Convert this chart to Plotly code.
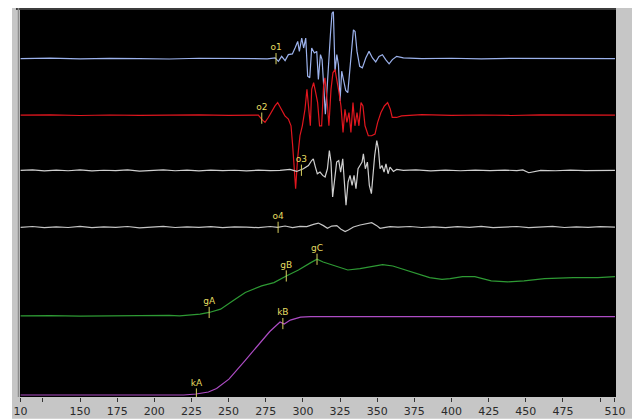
import plotly.graph_objects as go

# ---------------- data ----------------
tick_vals = [110, 125, 150, 175, 200, 225, 250, 275, 300, 325, 350, 375, 400, 425, 450, 475, 500, 510]
tick_text = ["10", "", "150", "175", "200", "225", "250", "275", "300", "325", "350", "375", "400", "425", "450", "475", "", "510"]

blue_x = [110, 130, 150, 170, 190, 210, 230, 250, 268, 276,
          281.3, 283.5, 285.7, 288, 290.2, 292.9, 294.7, 296.5, 297.6, 299.2,
          300.5, 301.9, 303.2, 304.6, 305.9, 307.7, 309.3, 310.4, 311.8, 312.9,
          314, 315.1, 316.3, 317.4, 318.5, 319.6, 320.5, 321.6, 322.8, 323.9,
          325, 326.1, 327.5, 328.8, 330.2, 331.5, 332.9, 334, 335.1, 336.4,
          338.2, 340, 342.3, 344.5, 346.8, 349, 351.2, 353.5, 355.7, 358,
          360.2, 363.1, 367.6, 380, 400, 420, 440, 460, 480, 500, 510]
blue_y = [341, 341.5, 340.8, 341.3, 341, 340.6, 341.4, 341, 341.2, 340.8,
          341.7, 338.3, 343.3, 339, 345, 345.7, 351.7, 358.3, 348.3, 361.7,
          351.7, 361.7, 323.3, 321.7, 351.7, 346.7, 348.3, 320, 345, 340,
          313.3, 285, 311.7, 341.7, 365, 386.7, 388.3, 328.3, 345, 335,
          298.3, 328.3, 318.3, 309, 306.7, 328.3, 351.7, 370, 368.3, 348.3,
          333.3, 331.7, 341.7, 348.3, 341.7, 337.7, 343.3, 345, 340, 335.7,
          340, 343.3, 341.7, 341, 341.4, 340.7, 341.2, 341, 341.5, 340.8, 341]

red_x = [110, 130, 150, 170, 190, 210, 230, 250, 261, 270,
         272.2, 274.5, 276.7, 279, 281.2, 283, 285.2, 287.9, 290.2, 292,
         293.1, 294.2, 295.1, 296.4, 298, 299.6, 301.4, 302.7, 303.6, 305,
         305.9, 307.2, 308.6, 309.9, 311.2, 312.6, 313.9, 314.8, 316.2, 317.5,
         318.9, 320.2, 321.6, 322.9, 324.3, 325.6, 327, 328.3, 329.6, 331,
         332.3, 333.7, 335, 336.4, 337.7, 339.1, 340.4, 341.8, 344, 346.2,
         348.5, 350.3, 352.5, 354.8, 357, 358.8, 360.1, 363, 366.4, 380,
         400, 420, 440, 460, 480, 500, 510]
red_y = [284, 284.3, 283.7, 284.2, 283.8, 284.1, 284.4, 283.8, 284, 284,
         280, 276.7, 281.7, 288.3, 293.3, 296.7, 290, 283.3, 280, 273.3,
         253.3, 230, 210, 240, 263.3, 273.3, 290, 310, 296.7, 273.3,
         310, 316.7, 306.7, 296.7, 273.3, 273.3, 313.3, 321.7, 300, 273.3,
         310, 326.7, 330, 320, 306.7, 293.3, 266.7, 290, 276.7, 286.7,
         266.7, 296.7, 273.3, 286.7, 273.3, 296.7, 293.3, 273.3, 263.3, 263.3,
         265, 276.7, 286.7, 293.3, 296.7, 290, 281.7, 281.7, 283.3, 284.5,
         283.8, 284.2, 283.7, 284.3, 283.9, 284.1, 284]

gray3_x = [110, 118, 126, 134, 142, 150, 158, 166, 174, 182,
           190, 198, 206, 214, 222, 230, 238, 246, 254, 262,
           270, 278, 284.6, 291.3, 295.8, 300.3, 303.7, 305.9, 307, 308.4,
           309.7, 311.5, 313.3, 314.9, 316.5, 317.8, 318.9, 320, 321.4, 322.7,
           324.1, 325.4, 326.8, 327.9, 329, 330.4, 331.7, 333.1, 334.4, 335.7,
           337.1, 338.4, 339.8, 340.7, 342, 343.4, 344.7, 346.1, 347, 348.3,
           349.7, 350.8, 351.9, 353.2, 354.6, 355.9, 357.3, 358.6, 360.9, 363.1,
           367.6, 376, 386, 396, 406, 416, 426, 436, 444, 448,
           452, 460, 470, 480, 490, 500, 510]
gray3_y = [228.3, 228.9, 227.8, 228.6, 228, 228.8, 227.9, 228.5, 228.2, 228.9,
           227.7, 228.4, 228.8, 228, 228.6, 227.9, 228.7, 228.1, 228.5, 227.8,
           228.6, 228.2, 228.3, 229.3, 227.3, 230, 233.3, 238.3, 240, 231.7,
           225, 226.7, 223.3, 221.7, 230, 248.3, 236.7, 201.7, 220, 236.7,
           238.3, 226.7, 240, 220, 193.3, 216.7, 223.3, 213.3, 223.3, 210,
           230, 233.3, 236.7, 245, 230, 236.7, 213.3, 205, 223.3, 243.3,
           258.3, 250, 230, 233.3, 226.7, 235, 225, 231.7, 227.3, 229.3,
           228.3, 228.8, 227.9, 228.6, 228, 228.7, 228.1, 228.6, 228.2, 228.8,
           226, 228.4, 228, 228.7, 228.1, 228.5, 228.3]

gray4_x = [110, 118, 126, 134, 142, 150, 158, 166, 174, 182,
           190, 198, 206, 214, 222, 230, 238, 246, 254, 262,
           270, 278, 283, 288, 293, 298, 302.6, 307.1, 310.4, 313.8,
           316.5, 319.4, 322.8, 325.4, 328.4, 330.6, 334, 338.5, 343, 346.3,
           349.7, 351.9, 354.6, 358.6, 364, 372, 380, 388, 396, 404,
           412, 420, 428, 436, 444, 452, 460, 468, 476, 484,
           492, 500, 510]
gray4_y = [171, 171.8, 170.6, 171.5, 170.8, 171.9, 170.7, 171.4, 171, 171.8,
           170.5, 171.3, 171.9, 170.8, 171.5, 170.9, 171.7, 170.6, 171.4, 171.1,
           170.7, 171.8, 171, 172.3, 170.6, 172, 171.7, 174, 175.3, 172.7,
           170, 172.3, 172.7, 169.3, 166.7, 168.3, 171.3, 173.3, 175, 175.7,
           172.7, 170, 170.7, 171.7, 171.2, 171.8, 170.8, 171.4, 170.6, 171.7,
           171, 171.9, 170.7, 171.3, 171.8, 170.6, 171.4, 171.9, 170.8, 171.5,
           171, 171.7, 171.2]

green_x = [110, 130, 150, 170, 190, 210, 217, 230.8, 236.9, 244.6,
           252.9, 261.2, 272.2, 280.5, 288.8, 297, 305.3, 309.5, 313.6, 321.9,
           330.2, 338.4, 346.7, 353.6, 360.5, 368.8, 377.1, 385.3, 393.6, 399.1,
           407.4, 415.7, 426.7, 437.8, 448.8, 462.6, 481.9, 498.5, 510]
green_y = [81.8, 82.1, 81.6, 82, 81.7, 82.2, 81.8, 83.5, 85.2, 88.5,
           96.9, 105.3, 112, 115.3, 122, 128, 135.4, 138.8, 136.1, 132,
           128, 129.4, 132, 133.4, 132, 128, 123.7, 120.3, 118.6, 119.3,
           121.3, 121.3, 117, 116, 117, 119.3, 120.3, 120.3, 121.3]

magenta_x = [110, 130, 150, 170, 190, 210, 219.8, 228.1, 236.4, 241.9,
             250.2, 261.2, 269.5, 277.7, 284.6, 287.4, 291.5, 298.4, 305.3, 330,
             360, 400, 440, 480, 510]
magenta_y = [2, 2, 2, 2, 2, 2, 2, 3, 5, 8.5,
             18, 37, 52, 66, 75.5, 73.5, 77.5, 80.5, 81, 81,
             81.1, 81, 81, 81, 81]

marker_labels = ["o1", "o2", "o3", "o4", "gA", "gB", "gC", "kA", "kB"]
marker_x = [281.9, 272.3, 299.0, 283.3, 236.9, 288.8, 309.5, 228.3, 286.5]
marker_y = [341, 281, 228.5, 171, 85.2, 122, 138.8, 3, 74]

# ---------------- figure ----------------
# The page body has an 8 px margin, so the figure is drawn at (8, 8)
# and sized to fill the rest of the 642x420 window.
OFF = 8
W, H = 642 - OFF, 420 - OFF
ML, MT = 20 - OFF, 10 - OFF
MR = W - (616 - OFF)
MB = H - (400 - OFF)
PW, PH = W - ML - MR, H - MT - MB


def px(xp):
    """window pixel x -> paper x"""
    return (xp - OFF - ML) / PW


def py(yp):
    """window pixel y -> paper y"""
    return (H - MB - (yp - OFF)) / PH


fig = go.Figure()

series = [
    (blue_x, blue_y, "#9cb2ec"),
    (red_x, red_y, "#e0161e"),
    (gray3_x, gray3_y, "#cfcfcf"),
    (gray4_x, gray4_y, "#c4c4c4"),
    (green_x, green_y, "#2e9a34"),
    (magenta_x, magenta_y, "#ad4cc4"),
]
for xs, ys, col in series:
    fig.add_trace(go.Scatter(x=xs, y=ys, mode="lines",
                             line=dict(color=col, width=1.2),
                             hoverinfo="skip", showlegend=False))

fig.add_trace(go.Scatter(
    x=marker_x, y=marker_y, mode="markers+text",
    text=marker_labels, textposition="top center",
    textfont=dict(family="DejaVu Sans", size=9, color="#e6de62"),
    marker=dict(symbol="line-ns", size=8,
                line=dict(color="#d8d060", width=1)),
    hoverinfo="skip", showlegend=False))

shapes = [
    # grey window frame
    dict(type="rect", xref="paper", yref="paper", layer="below",
         x0=px(12), x1=px(632), y0=py(422), y1=py(8),
         fillcolor="#c6c6c6", line=dict(width=0)),
    # black plot area
    dict(type="rect", xref="paper", yref="paper", layer="below",
         x0=0, x1=1, y0=0, y1=1, fillcolor="#000000", line=dict(width=0)),
    # dark top border
    dict(type="line", xref="paper", yref="paper", layer="below",
         x0=px(16), x1=px(616), y0=py(9), y1=py(9),
         line=dict(color="#3c3c3c", width=2)),
    # left inner border
    dict(type="line", xref="paper", yref="paper", layer="below",
         x0=px(18.5), x1=px(18.5), y0=py(400), y1=py(8),
         line=dict(color="#8c8c8c", width=1.5)),
]

fig.update_layout(
    width=W, height=H,
    margin=dict(l=ML, r=MR, t=MT, b=MB, pad=0),
    paper_bgcolor="#ffffff",
    plot_bgcolor="#000000",
    shapes=shapes,
    showlegend=False,
    xaxis=dict(range=[109.6, 510.7], tickmode="array",
               tickvals=tick_vals, ticktext=tick_text,
               ticks="outside", ticklen=4, tickwidth=1, tickcolor="#333333",
               tickfont=dict(family="DejaVu Sans", size=11, color="#2a2a2a"),
               showgrid=False, zeroline=False, showline=False, fixedrange=True),
    yaxis=dict(range=[0, 390], visible=False, showgrid=False,
               zeroline=False, fixedrange=True),
)

fig.write_html("out.html")
